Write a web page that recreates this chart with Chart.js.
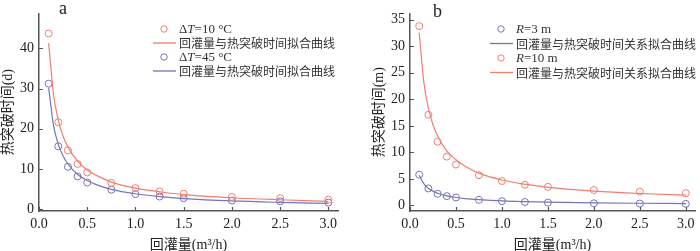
<!DOCTYPE html>
<html>
<head>
<meta charset="utf-8">
<script src="https://cdn.jsdelivr.net/npm/chart.js@4.4.1/dist/chart.umd.min.js"></script>
<style>
  html, body { margin: 0; padding: 0; background: #fff; }
  #wrap { position: relative; width: 700px; height: 251px; }
  canvas { position: absolute; top: 0; }
  #chartA { left: 0; }
  #chartB { left: 350px; }
</style>
</head>
<body>
<div id="wrap">
  <canvas id="chartA" width="350" height="251"></canvas>
  <canvas id="chartB" width="350" height="251"></canvas>
</div>
<script>
'use strict';

// measured points (回灌量, m3/h)
const flowX = [0.1, 0.2, 0.3, 0.4, 0.5, 0.75, 1, 1.25, 1.5, 2, 2.5, 3];
const curveX = [0.1, 0.15, 0.2, 0.25, 0.3, 0.4, 0.5, 0.6, 0.75, 1, 1.25, 1.5, 2, 2.5, 3];

// panel a
const aDT10 = [43.7, 21.6, 14.6, 11.2, 9.1, 6.5, 5.2, 4.4, 3.8, 3.0, 2.7, 2.3];
const aDT45 = [31.2, 15.6, 10.5, 8.1, 6.6, 4.8, 3.7, 3.1, 2.7, 2.1, 1.9, 1.6];
const aFit10 = [41.3, 28.7, 22.1, 18.1, 15.4, 11.9, 9.7, 8.3, 6.7, 5.2, 4.3, 3.6, 2.8, 2.3, 1.9];
const aFit45 = [30.2, 20.9, 16.1, 13.2, 11.2, 8.6, 7.1, 6.0, 4.9, 3.8, 3.1, 2.6, 2.0, 1.65, 1.4];

// panel b
const bR3 = [5.8, 3.2, 2.2, 1.75, 1.5, 1.05, 0.8, 0.65, 0.53, 0.4, 0.35, 0.3];
const bR10 = [33.8, 17.1, 12.0, 9.2, 7.7, 5.7, 4.6, 3.9, 3.5, 2.9, 2.6, 2.3];
const bFit3 = [5.7, 4.1, 3.2, 2.7, 2.3, 1.8, 1.5, 1.3, 1.1, 0.86, 0.72, 0.62, 0.49, 0.41, 0.35];
const bFit10 = [32.6, 23.3, 18.3, 15.2, 13.1, 10.3, 8.6, 7.4, 6.1, 4.8, 4.0, 3.4, 2.7, 2.25, 1.93];

const xTicks = [0, 0.5, 1, 1.5, 2, 2.5, 3];
const aYTicks = [0, 10, 20, 30, 40];
const bYTicks = [0, 5, 10, 15, 20, 25, 30, 35];

const RED = '#ef7f70';
const BLUE = '#7575b8';
const AXIS = '#555';
const SERIF = "'Liberation Serif', 'Noto Sans CJK SC', serif";

function pts(xs, ys) {
    return xs.map((x, i) => ({ x: x, y: ys[i] }));
}

// ticks pointing into the plot
const innerTicks = {
    id: 'innerTicks',
    afterDraw(chart) {
        const ctx = chart.ctx;
        const xs = chart.scales.x, ys = chart.scales.y;
        ctx.save();
        ctx.strokeStyle = AXIS;
        ctx.lineWidth = 1.2;
        ctx.beginPath();
        xs.ticks.forEach(t => {
            const px = Math.round(xs.getPixelForValue(t.value)) + 0.5;
            ctx.moveTo(px, ys.bottom);
            ctx.lineTo(px, ys.bottom - 4);
        });
        ys.ticks.forEach(t => {
            const py = Math.round(ys.getPixelForValue(t.value)) + 0.5;
            ctx.moveTo(xs.left, py);
            ctx.lineTo(xs.left + 4, py);
        });
        ctx.stroke();
        ctx.restore();
    }
};

// legend + panel letter drawn inside the plot
const panelLegend = {
    id: 'panelLegend',
    afterDraw(chart, args, opts) {
        const ctx = chart.ctx;
        ctx.save();
        ctx.fillStyle = '#222';
        ctx.font = '18px ' + SERIF;
        ctx.textBaseline = 'middle';
        ctx.fillText(opts.letter, opts.letterX, opts.letterY);
        opts.rows.forEach((row, i) => {
            const y = opts.y + i * opts.gap;
            ctx.strokeStyle = row.color;
            if (row.kind === 'point') {
                ctx.lineWidth = 1;
                ctx.beginPath();
                ctx.arc(opts.x + 11, y, 3.2, 0, Math.PI * 2);
                ctx.stroke();
            } else {
                ctx.lineWidth = 1.3;
                ctx.beginPath();
                ctx.moveTo(opts.x, y);
                ctx.lineTo(opts.x + 23, y);
                ctx.stroke();
            }
            let tx = opts.x + 26;
            ctx.fillStyle = '#333';
            row.parts.forEach(p => {
                ctx.font = (p.italic ? 'italic ' : '') + '13px ' + SERIF;
                if (p.cjk) ctx.font = "12px 'Noto Sans CJK SC', sans-serif";
                ctx.fillText(p.t, tx, y + 0.5);
                tx += ctx.measureText(p.t).width;
            });
        });
        ctx.restore();
    }
};

function createPanel(id, cfg) {
    const ctx = document.getElementById(id).getContext('2d');
    return new Chart(ctx, {
        type: 'scatter',
        data: {
            datasets: [
                { data: pts(flowX, cfg.s1), borderColor: cfg.c1, backgroundColor: 'rgba(0,0,0,0)',
                  pointRadius: 3.5, pointBorderWidth: 1, showLine: false },
                { data: pts(curveX, cfg.f1), borderColor: cfg.c1, borderWidth: 1.2,
                  pointRadius: 0, showLine: true, cubicInterpolationMode: 'monotone' },
                { data: pts(flowX, cfg.s2), borderColor: cfg.c2, backgroundColor: 'rgba(0,0,0,0)',
                  pointRadius: 3.5, pointBorderWidth: 1, showLine: false },
                { data: pts(curveX, cfg.f2), borderColor: cfg.c2, borderWidth: 1.2,
                  pointRadius: 0, showLine: true, cubicInterpolationMode: 'monotone' }
            ]
        },
        options: {
            responsive: false,
            maintainAspectRatio: false,
            animation: false,
            layout: { padding: cfg.pad },
            plugins: {
                legend: { display: false },
                tooltip: { enabled: false },
                panelLegend: cfg.legend
            },
            scales: {
                x: {
                    type: 'linear', min: 0, max: 3.1,
                    grid: { display: false, drawTicks: false },
                    border: { display: true, color: AXIS, width: 1.5 },
                    afterBuildTicks: s => { s.ticks = xTicks.map(v => ({ value: v })); },
                    afterFit: s => { s.height = 40; },
                    ticks: { padding: 5, color: '#222', font: { family: SERIF, size: 14 },
                             callback: v => v.toFixed(1), maxRotation: 0 },
                    title: { display: true, text: '回灌量(m³/h)', color: '#222',
                             padding: { top: 0, bottom: -3 },
                             font: { family: SERIF, size: 14 } }
                },
                y: {
                    type: 'linear', min: cfg.yMin, max: cfg.yMax,
                    grid: { display: false, drawTicks: false },
                    border: { display: true, color: AXIS, width: 1.5 },
                    afterBuildTicks: s => { s.ticks = cfg.yTicks.map(v => ({ value: v })); },
                    afterFit: s => { s.width = cfg.yWidth; },
                    ticks: { padding: 5, color: '#222', font: { family: SERIF, size: 14 } },
                    title: { display: true, text: cfg.yTitle, color: '#222',
                             padding: { top: cfg.yTitlePad, bottom: 0 },
                             font: { family: SERIF, size: 14 } }
                }
            }
        },
        plugins: [innerTicks, panelLegend]
    });
}

createPanel('chartA', {
    s1: aDT10, f1: aFit10, c1: RED,
    s2: aDT45, f2: aFit45, c2: BLUE,
    yMin: -0.5, yMax: 48.7, yTicks: aYTicks, yWidth: 39, yTitlePad: 0,
    yTitle: '热突破时间(d)',
    pad: { top: 1, right: 12, bottom: 0, left: 0 },
    legend: {
        letter: 'a', letterX: 59, letterY: 9,
        x: 153, y: 29, gap: 14,
        rows: [
            { kind: 'point', color: RED, parts: [{ t: 'Δ' }, { t: 'T', italic: true }, { t: '=10 °C' }] },
            { kind: 'line', color: RED, parts: [{ t: '回灌量与热突破时间拟合曲线', cjk: true }] },
            { kind: 'point', color: BLUE, parts: [{ t: 'Δ' }, { t: 'T', italic: true }, { t: '=45 °C' }] },
            { kind: 'line', color: BLUE, parts: [{ t: '回灌量与热突破时间拟合曲线', cjk: true }] }
        ]
    }
});

createPanel('chartB', {
    s1: bR3, f1: bFit3, c1: BLUE,
    s2: bR10, f2: bFit10, c2: RED,
    yMin: -1.05, yMax: 36.2, yTicks: bYTicks, yWidth: 60, yTitlePad: 21,
    yTitle: '热突破时间(m)',
    pad: { top: 0, right: 2, bottom: 0, left: 0 },
    legend: {
        letter: 'b', letterX: 83, letterY: 12,
        x: 140, y: 29, gap: 14.5,
        rows: [
            { kind: 'point', color: BLUE, parts: [{ t: 'R', italic: true }, { t: '=3 m' }] },
            { kind: 'line', color: BLUE, parts: [{ t: '回灌量与热突破时间关系拟合曲线', cjk: true }] },
            { kind: 'point', color: RED, parts: [{ t: 'R', italic: true }, { t: '=10 m' }] },
            { kind: 'line', color: RED, parts: [{ t: '回灌量与热突破时间关系拟合曲线', cjk: true }] }
        ]
    }
});
</script>
</body>
</html>
